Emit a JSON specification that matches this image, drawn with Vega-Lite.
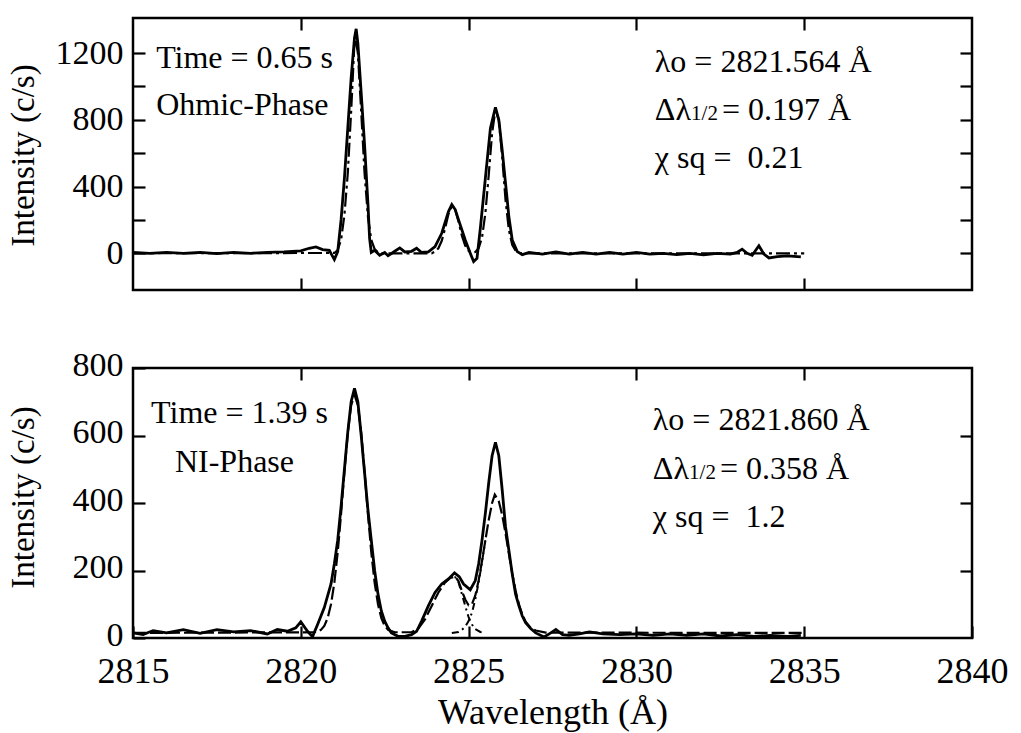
{
  "$schema": "https://vega.github.io/schema/vega-lite/v6.json",
  "background": "white",
  "padding": {"left": 5, "top": 15, "right": 0, "bottom": 0},
  "bounds": "flush",
  "spacing": 78,
  "config": {
    "font": "Liberation Serif",
    "view": {"stroke": "black", "strokeWidth": 2.5},
    "axis": {
      "domain": false, "grid": false, "ticks": true,
      "tickColor": "black", "tickWidth": 2.2, "tickSize": -12,
      "labelFont": "Liberation Serif", "labelFontSize": 34, "labelColor": "black",
      "labelFlush": false, "labelOverlap": false,
      "titleFont": "Liberation Serif", "titleFontSize": 36, "titleFontWeight": "normal", "titleColor": "black"
    },
    "text": {"font": "Liberation Serif", "fontSize": 32, "color": "black", "align": "left", "baseline": "alphabetic"}
  },
  "vconcat": [
    {
      "width": 839, "height": 272,
      "data": {"values": [
        {"s":"obs","x":2815,"y":5},{"s":"obs","x":2815.5,"y":0},{"s":"obs","x":2816,"y":6},{"s":"obs","x":2816.5,"y":0},{"s":"obs","x":2817,"y":5},{"s":"obs","x":2817.5,"y":-2},{"s":"obs","x":2818,"y":5},{"s":"obs","x":2818.5,"y":0},{"s":"obs","x":2819,"y":6},{"s":"obs","x":2819.5,"y":8},{"s":"obs","x":2820,"y":15},{"s":"obs","x":2820.25,"y":30},{"s":"obs","x":2820.45,"y":38},{"s":"obs","x":2820.65,"y":22},{"s":"obs","x":2820.85,"y":18},{"s":"obs","x":2821.0,"y":-38},{"s":"obs","x":2821.1,"y":10},{"s":"obs","x":2821.2,"y":200},{"s":"obs","x":2821.3,"y":450},{"s":"obs","x":2821.4,"y":750},{"s":"obs","x":2821.5,"y":1050},{"s":"obs","x":2821.6,"y":1290},{"s":"obs","x":2821.65,"y":1345},{"s":"obs","x":2821.7,"y":1260},{"s":"obs","x":2821.8,"y":960},{"s":"obs","x":2821.9,"y":650},{"s":"obs","x":2822.0,"y":300},{"s":"obs","x":2822.05,"y":90},{"s":"obs","x":2822.1,"y":5},{"s":"obs","x":2822.2,"y":18},{"s":"obs","x":2822.35,"y":-12},{"s":"obs","x":2822.5,"y":5},{"s":"obs","x":2822.6,"y":-15},{"s":"obs","x":2822.8,"y":12},{"s":"obs","x":2822.95,"y":32},{"s":"obs","x":2823.1,"y":8},{"s":"obs","x":2823.3,"y":12},{"s":"obs","x":2823.45,"y":30},{"s":"obs","x":2823.6,"y":5},{"s":"obs","x":2823.8,"y":8},{"s":"obs","x":2824.0,"y":40},{"s":"obs","x":2824.2,"y":120},{"s":"obs","x":2824.4,"y":250},{"s":"obs","x":2824.5,"y":292},{"s":"obs","x":2824.6,"y":262},{"s":"obs","x":2824.75,"y":170},{"s":"obs","x":2824.9,"y":80},{"s":"obs","x":2825.05,"y":0},{"s":"obs","x":2825.15,"y":-50},{"s":"obs","x":2825.25,"y":-30},{"s":"obs","x":2825.35,"y":150},{"s":"obs","x":2825.5,"y":450},{"s":"obs","x":2825.65,"y":750},{"s":"obs","x":2825.8,"y":875},{"s":"obs","x":2825.9,"y":800},{"s":"obs","x":2826.0,"y":620},{"s":"obs","x":2826.1,"y":420},{"s":"obs","x":2826.2,"y":220},{"s":"obs","x":2826.3,"y":80},{"s":"obs","x":2826.45,"y":10},{"s":"obs","x":2826.6,"y":-8},{"s":"obs","x":2826.8,"y":5},{"s":"obs","x":2827.2,"y":-5},{"s":"obs","x":2827.6,"y":8},{"s":"obs","x":2828.0,"y":-5},{"s":"obs","x":2828.4,"y":5},{"s":"obs","x":2828.8,"y":-5},{"s":"obs","x":2829.2,"y":5},{"s":"obs","x":2829.6,"y":-5},{"s":"obs","x":2830.0,"y":5},{"s":"obs","x":2830.4,"y":-5},{"s":"obs","x":2830.8,"y":0},{"s":"obs","x":2831.2,"y":-8},{"s":"obs","x":2831.6,"y":0},{"s":"obs","x":2832.0,"y":-10},{"s":"obs","x":2832.4,"y":0},{"s":"obs","x":2832.8,"y":-5},{"s":"obs","x":2833.0,"y":5},{"s":"obs","x":2833.15,"y":25},{"s":"obs","x":2833.3,"y":0},{"s":"obs","x":2833.45,"y":-12},{"s":"obs","x":2833.65,"y":45},{"s":"obs","x":2833.8,"y":-5},{"s":"obs","x":2833.95,"y":-28},{"s":"obs","x":2834.2,"y":-20},{"s":"obs","x":2834.5,"y":-15},{"s":"obs","x":2834.9,"y":-22},
        {"s":"fit","x":2815,"y":0},{"s":"fit","x":2821.0,"y":2},{"s":"fit","x":2821.1,"y":20},{"s":"fit","x":2821.2,"y":80},{"s":"fit","x":2821.3,"y":230},{"s":"fit","x":2821.4,"y":480},{"s":"fit","x":2821.5,"y":850},{"s":"fit","x":2821.6,"y":1270},{"s":"fit","x":2821.62,"y":1300},{"s":"fit","x":2821.7,"y":1200},{"s":"fit","x":2821.8,"y":850},{"s":"fit","x":2821.9,"y":480},{"s":"fit","x":2822.0,"y":220},{"s":"fit","x":2822.1,"y":80},{"s":"fit","x":2822.2,"y":25},{"s":"fit","x":2822.3,"y":5},{"s":"fit","x":2822.4,"y":0},{"s":"fit","x":2823.9,"y":0},{"s":"fit","x":2824.0,"y":10},{"s":"fit","x":2824.1,"y":30},{"s":"fit","x":2824.2,"y":75},{"s":"fit","x":2824.3,"y":150},{"s":"fit","x":2824.4,"y":235},{"s":"fit","x":2824.5,"y":280},{"s":"fit","x":2824.6,"y":262},{"s":"fit","x":2824.7,"y":190},{"s":"fit","x":2824.8,"y":105},{"s":"fit","x":2824.9,"y":45},{"s":"fit","x":2825.0,"y":15},{"s":"fit","x":2825.1,"y":5},{"s":"fit","x":2825.2,"y":8},{"s":"fit","x":2825.3,"y":30},{"s":"fit","x":2825.4,"y":95},{"s":"fit","x":2825.5,"y":240},{"s":"fit","x":2825.6,"y":470},{"s":"fit","x":2825.7,"y":720},{"s":"fit","x":2825.8,"y":860},{"s":"fit","x":2825.9,"y":800},{"s":"fit","x":2826.0,"y":580},{"s":"fit","x":2826.1,"y":320},{"s":"fit","x":2826.2,"y":140},{"s":"fit","x":2826.3,"y":50},{"s":"fit","x":2826.4,"y":15},{"s":"fit","x":2826.5,"y":3},{"s":"fit","x":2826.6,"y":0},{"s":"fit","x":2835,"y":0}
      ]},
      "resolve": {"axis": {"x": "independent", "y": "independent"}},
      "layer": [
        {
          "transform": [{"filter": "datum.s === 'obs'"}],
          "mark": {"type": "line", "color": "black", "strokeWidth": 2.8, "clip": true},
          "encoding": {
            "x": {"field": "x", "type": "quantitative", "scale": {"domain": [2815, 2840], "nice": false, "zero": false},
                  "axis": {"orient": "bottom", "values": [2820, 2825, 2830, 2835], "labels": false, "title": null}},
            "y": {"field": "y", "type": "quantitative", "scale": {"domain": [-220, 1410], "nice": false, "zero": false},
                  "axis": {"orient": "left", "values": [0, 200, 400, 600, 800, 1000, 1200], "format": "d",
                           "labelExpr": "datum.value % 400 === 0 ? datum.label : ''", "labelPadding": 22,
                           "title": "Intensity (c/s)", "titleFontSize": 33, "titleX": -93, "titleY": 137}}
          }
        },
        {
          "transform": [{"filter": "datum.s === 'fit'"}],
          "mark": {"type": "line", "color": "black", "strokeWidth": 2.2, "strokeDash": [14, 4, 3, 4], "clip": true},
          "encoding": {
            "x": {"field": "x", "type": "quantitative", "scale": {"domain": [2815, 2840], "nice": false, "zero": false},
                  "axis": {"orient": "top", "values": [2820, 2825, 2830, 2835], "labels": false, "title": null}},
            "y": {"field": "y", "type": "quantitative", "scale": {"domain": [-220, 1410], "nice": false, "zero": false},
                  "axis": {"orient": "right", "values": [0, 200, 400, 600, 800, 1000, 1200], "labels": false, "title": null}}
          }
        },
        {
          "data": {"values": [
            {"x": 2815.69, "y": 1110, "t": "Time = 0.65 s"},
            {"x": 2815.69, "y": 828, "t": "Ohmic-Phase"},
            {"x": 2830.55, "y": 1086, "t": "λo = 2821.564 Å"},
            {"x": 2830.55, "y": 798, "t": "Δλ"},
            {"x": 2832.55, "y": 798, "t": "= 0.197 Å"},
            {"x": 2830.55, "y": 510, "t": "χ sq = \u00a00.21"}
          ]},
          "mark": {"type": "text"},
          "encoding": {
            "x": {"field": "x", "type": "quantitative", "scale": {"domain": [2815, 2840], "nice": false, "zero": false}, "axis": null},
            "y": {"field": "y", "type": "quantitative", "scale": {"domain": [-220, 1410], "nice": false, "zero": false}, "axis": null},
            "text": {"field": "t"}
          }
        },
        {
          "data": {"values": [
            {"x": 2831.63, "y": 798, "t": "1/2"}
          ]},
          "mark": {"type": "text", "fontSize": 21},
          "encoding": {
            "x": {"field": "x", "type": "quantitative", "scale": {"domain": [2815, 2840], "nice": false, "zero": false}, "axis": null},
            "y": {"field": "y", "type": "quantitative", "scale": {"domain": [-220, 1410], "nice": false, "zero": false}, "axis": null},
            "text": {"field": "t"}
          }
        }
      ]
    },
    {
      "width": 839, "height": 270,
      "data": {"values": [
        {"s":"obs","x":2815.0,"y":15},{"s":"obs","x":2815.3,"y":10},{"s":"obs","x":2815.6,"y":22},{"s":"obs","x":2816.0,"y":15},{"s":"obs","x":2816.5,"y":25},{"s":"obs","x":2817.0,"y":14},{"s":"obs","x":2817.5,"y":25},{"s":"obs","x":2818.0,"y":18},{"s":"obs","x":2818.5,"y":22},{"s":"obs","x":2819.0,"y":12},{"s":"obs","x":2819.3,"y":25},{"s":"obs","x":2819.6,"y":20},{"s":"obs","x":2819.85,"y":30},{"s":"obs","x":2820.0,"y":48},{"s":"obs","x":2820.2,"y":20},{"s":"obs","x":2820.35,"y":4},{"s":"obs","x":2820.5,"y":40},{"s":"obs","x":2820.7,"y":90},{"s":"obs","x":2820.9,"y":160},{"s":"obs","x":2821.0,"y":220},{"s":"obs","x":2821.1,"y":290},{"s":"obs","x":2821.2,"y":390},{"s":"obs","x":2821.3,"y":500},{"s":"obs","x":2821.4,"y":610},{"s":"obs","x":2821.5,"y":700},{"s":"obs","x":2821.6,"y":740},{"s":"obs","x":2821.7,"y":700},{"s":"obs","x":2821.8,"y":600},{"s":"obs","x":2821.9,"y":490},{"s":"obs","x":2822.0,"y":380},{"s":"obs","x":2822.1,"y":290},{"s":"obs","x":2822.2,"y":200},{"s":"obs","x":2822.3,"y":130},{"s":"obs","x":2822.4,"y":80},{"s":"obs","x":2822.5,"y":50},{"s":"obs","x":2822.6,"y":30},{"s":"obs","x":2822.7,"y":15},{"s":"obs","x":2822.9,"y":5},{"s":"obs","x":2823.1,"y":5},{"s":"obs","x":2823.3,"y":10},{"s":"obs","x":2823.45,"y":20},{"s":"obs","x":2823.6,"y":50},{"s":"obs","x":2823.8,"y":95},{"s":"obs","x":2824.0,"y":135},{"s":"obs","x":2824.2,"y":160},{"s":"obs","x":2824.4,"y":175},{"s":"obs","x":2824.58,"y":193},{"s":"obs","x":2824.72,"y":182},{"s":"obs","x":2824.85,"y":160},{"s":"obs","x":2825.05,"y":143},{"s":"obs","x":2825.2,"y":170},{"s":"obs","x":2825.3,"y":220},{"s":"obs","x":2825.4,"y":290},{"s":"obs","x":2825.5,"y":370},{"s":"obs","x":2825.6,"y":460},{"s":"obs","x":2825.7,"y":540},{"s":"obs","x":2825.8,"y":580},{"s":"obs","x":2825.9,"y":540},{"s":"obs","x":2826.0,"y":440},{"s":"obs","x":2826.1,"y":330},{"s":"obs","x":2826.2,"y":260},{"s":"obs","x":2826.3,"y":190},{"s":"obs","x":2826.4,"y":130},{"s":"obs","x":2826.5,"y":95},{"s":"obs","x":2826.6,"y":65},{"s":"obs","x":2826.7,"y":45},{"s":"obs","x":2826.85,"y":28},{"s":"obs","x":2827.0,"y":15},{"s":"obs","x":2827.25,"y":3},{"s":"obs","x":2827.45,"y":15},{"s":"obs","x":2827.6,"y":25},{"s":"obs","x":2827.8,"y":10},{"s":"obs","x":2828.0,"y":8},{"s":"obs","x":2828.3,"y":12},{"s":"obs","x":2828.6,"y":18},{"s":"obs","x":2829.0,"y":12},{"s":"obs","x":2829.5,"y":10},{"s":"obs","x":2830.0,"y":12},{"s":"obs","x":2830.5,"y":8},{"s":"obs","x":2831.0,"y":12},{"s":"obs","x":2831.5,"y":8},{"s":"obs","x":2832.0,"y":12},{"s":"obs","x":2832.5,"y":6},{"s":"obs","x":2833.0,"y":10},{"s":"obs","x":2833.5,"y":5},{"s":"obs","x":2834.0,"y":8},{"s":"obs","x":2834.5,"y":5},{"s":"obs","x":2834.9,"y":8},
        {"s":"fit","x":2815.0,"y":15},{"s":"fit","x":2820.4,"y":17},{"s":"fit","x":2820.6,"y":24},{"s":"fit","x":2820.7,"y":36},{"s":"fit","x":2820.8,"y":59},{"s":"fit","x":2820.9,"y":100},{"s":"fit","x":2821.0,"y":164},{"s":"fit","x":2821.1,"y":254},{"s":"fit","x":2821.2,"y":368},{"s":"fit","x":2821.3,"y":493},{"s":"fit","x":2821.4,"y":608},{"s":"fit","x":2821.5,"y":690},{"s":"fit","x":2821.6,"y":720},{"s":"fit","x":2821.7,"y":690},{"s":"fit","x":2821.8,"y":608},{"s":"fit","x":2821.9,"y":493},{"s":"fit","x":2822.0,"y":368},{"s":"fit","x":2822.1,"y":254},{"s":"fit","x":2822.2,"y":164},{"s":"fit","x":2822.3,"y":100},{"s":"fit","x":2822.4,"y":59},{"s":"fit","x":2822.5,"y":36},{"s":"fit","x":2822.6,"y":24},{"s":"fit","x":2822.8,"y":17},{"s":"fit","x":2823.3,"y":17},{"s":"fit","x":2823.5,"y":28},{"s":"fit","x":2823.7,"y":55},{"s":"fit","x":2823.9,"y":95},{"s":"fit","x":2824.1,"y":135},{"s":"fit","x":2824.3,"y":165},{"s":"fit","x":2824.45,"y":178},{"s":"fit","x":2824.6,"y":182},{"s":"fit","x":2824.7,"y":168},{"s":"fit","x":2824.8,"y":139},{"s":"fit","x":2824.9,"y":114},{"s":"fit","x":2825.0,"y":97},{"s":"fit","x":2825.1,"y":100},{"s":"fit","x":2825.2,"y":126},{"s":"fit","x":2825.3,"y":171},{"s":"fit","x":2825.4,"y":228},{"s":"fit","x":2825.5,"y":290},{"s":"fit","x":2825.6,"y":350},{"s":"fit","x":2825.7,"y":400},{"s":"fit","x":2825.78,"y":425},{"s":"fit","x":2825.9,"y":405},{"s":"fit","x":2826.0,"y":365},{"s":"fit","x":2826.1,"y":310},{"s":"fit","x":2826.2,"y":250},{"s":"fit","x":2826.3,"y":192},{"s":"fit","x":2826.4,"y":140},{"s":"fit","x":2826.5,"y":100},{"s":"fit","x":2826.6,"y":70},{"s":"fit","x":2826.7,"y":48},{"s":"fit","x":2826.85,"y":30},{"s":"fit","x":2827.0,"y":22},{"s":"fit","x":2827.3,"y":16},{"s":"fit","x":2835.0,"y":15},
        {"s":"a","x":2824.3,"y":165},{"s":"a","x":2824.45,"y":178},{"s":"a","x":2824.6,"y":180},{"s":"a","x":2824.7,"y":165},{"s":"a","x":2824.8,"y":130},{"s":"a","x":2824.9,"y":95},{"s":"a","x":2825.0,"y":62},{"s":"a","x":2825.1,"y":40},{"s":"a","x":2825.2,"y":26},{"s":"a","x":2825.35,"y":18},{"s":"a","x":2825.5,"y":15},
        {"s":"b","x":2824.5,"y":15},{"s":"b","x":2824.7,"y":18},{"s":"b","x":2824.8,"y":24},{"s":"b","x":2824.9,"y":34},{"s":"b","x":2825.0,"y":50},{"s":"b","x":2825.1,"y":75},{"s":"b","x":2825.2,"y":115},{"s":"b","x":2825.3,"y":165},{"s":"b","x":2825.4,"y":225},{"s":"b","x":2825.5,"y":290}
      ]},
      "resolve": {"axis": {"x": "independent", "y": "independent"}},
      "layer": [
        {
          "transform": [{"filter": "datum.s === 'obs'"}],
          "mark": {"type": "line", "color": "black", "strokeWidth": 2.8, "clip": true},
          "encoding": {
            "x": {"field": "x", "type": "quantitative", "scale": {"domain": [2815, 2840], "nice": false, "zero": false},
                  "axis": {"orient": "bottom", "values": [2815, 2820, 2825, 2830, 2835, 2840], "format": "d", "labelFontSize": 36, "labelPadding": 28,
                           "title": "Wavelength (Å)", "titleY": 57}},
            "y": {"field": "y", "type": "quantitative", "scale": {"domain": [0, 800], "nice": false, "zero": false},
                  "axis": {"orient": "left", "values": [0, 200, 400, 600, 800], "format": "d", "labelPadding": 22, "labelOffset": -3,
                           "title": "Intensity (c/s)", "titleFontSize": 33, "titleX": -93, "titleY": 129}}
          }
        },
        {
          "transform": [{"filter": "datum.s === 'fit'"}],
          "mark": {"type": "line", "color": "black", "strokeWidth": 2.2, "strokeDash": [13, 4], "clip": true},
          "encoding": {
            "x": {"field": "x", "type": "quantitative", "scale": {"domain": [2815, 2840], "nice": false, "zero": false},
                  "axis": {"orient": "top", "values": [2820, 2825, 2830, 2835], "labels": false, "title": null}},
            "y": {"field": "y", "type": "quantitative", "scale": {"domain": [0, 800], "nice": false, "zero": false},
                  "axis": {"orient": "right", "values": [200, 400, 600], "labels": false, "title": null}}
          }
        },
        {
          "transform": [{"filter": "datum.s === 'a' || datum.s === 'b'"}],
          "mark": {"type": "line", "color": "black", "strokeWidth": 2, "strokeDash": [7, 4, 2, 4], "clip": true},
          "encoding": {
            "x": {"field": "x", "type": "quantitative", "scale": {"domain": [2815, 2840], "nice": false, "zero": false}, "axis": null},
            "y": {"field": "y", "type": "quantitative", "scale": {"domain": [0, 800], "nice": false, "zero": false}, "axis": null},
            "detail": {"field": "s"}
          }
        },
        {
          "data": {"values": [
            {"x": 2815.54, "y": 636, "t": "Time = 1.39 s"},
            {"x": 2816.25, "y": 493, "t": "NI-Phase"},
            {"x": 2830.49, "y": 615, "t": "λo = 2821.860 Å"},
            {"x": 2830.49, "y": 472, "t": "Δλ"},
            {"x": 2832.49, "y": 472, "t": "= 0.358 Å"},
            {"x": 2830.49, "y": 328, "t": "χ sq = \u00a01.2"}
          ]},
          "mark": {"type": "text"},
          "encoding": {
            "x": {"field": "x", "type": "quantitative", "scale": {"domain": [2815, 2840], "nice": false, "zero": false}, "axis": null},
            "y": {"field": "y", "type": "quantitative", "scale": {"domain": [0, 800], "nice": false, "zero": false}, "axis": null},
            "text": {"field": "t"}
          }
        },
        {
          "data": {"values": [
            {"x": 2831.57, "y": 472, "t": "1/2"}
          ]},
          "mark": {"type": "text", "fontSize": 21},
          "encoding": {
            "x": {"field": "x", "type": "quantitative", "scale": {"domain": [2815, 2840], "nice": false, "zero": false}, "axis": null},
            "y": {"field": "y", "type": "quantitative", "scale": {"domain": [0, 800], "nice": false, "zero": false}, "axis": null},
            "text": {"field": "t"}
          }
        }
      ]
    }
  ]
}
